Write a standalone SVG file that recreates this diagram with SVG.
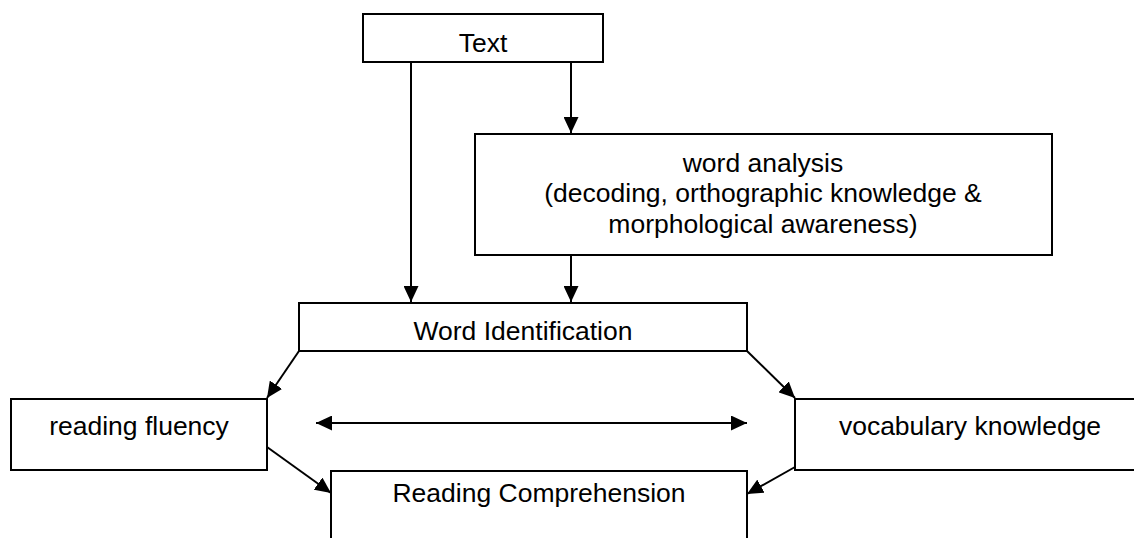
<svg xmlns="http://www.w3.org/2000/svg" width="1134" height="538" viewBox="0 0 1134 538">
<style>
.box{fill:#fff;stroke:#000;stroke-width:2}
.lbl{font-family:"Liberation Sans",Arial,sans-serif;font-size:26.5px;fill:#000;text-anchor:middle}
.con{stroke:#000;stroke-width:2;fill:none;marker-end:url(#ah)}
</style>
<defs>
<marker id="ah" markerUnits="userSpaceOnUse" markerWidth="17" markerHeight="15" viewBox="0 0 17 15" refX="16" refY="7.5" orient="auto-start-reverse">
<path d="M0,0 L16,7.5 L0,15 z" fill="#000"/>
</marker>
</defs>
<rect width="1134" height="538" fill="#fff"/>
<g id="connectors">
<line class="con" x1="411" y1="62" x2="411" y2="302"/>
<line class="con" x1="571" y1="62" x2="571" y2="133"/>
<line class="con" x1="571" y1="255" x2="571" y2="302"/>
<line class="con" x1="299" y1="351" x2="267" y2="398"/>
<line class="con" x1="747" y1="351" x2="795" y2="398"/>
<line class="con" x1="267" y1="447" x2="331" y2="493"/>
<line class="con" x1="795" y1="467" x2="747" y2="494"/>
<line class="con" x1="316" y1="423" x2="747" y2="423" marker-start="url(#ah)"/>
</g>
<g id="text-node">
<rect class="box" x="363" y="14" width="240" height="48"/>
<text class="lbl" x="483" y="52">Text</text>
</g>
<g id="word-analysis">
<rect class="box" x="475" y="134" width="577" height="121"/>
<text class="lbl" x="763" y="172">word analysis</text>
<text class="lbl" x="763" y="202">(decoding, orthographic knowledge &amp;</text>
<text class="lbl" x="763" y="233">morphological awareness)</text>
</g>
<g id="word-identification">
<rect class="box" x="299" y="303" width="448" height="48"/>
<text class="lbl" x="523" y="340">Word Identification</text>
</g>
<g id="reading-fluency">
<rect class="box" x="11" y="399" width="256" height="71"/>
<text class="lbl" x="139" y="435">reading fluency</text>
</g>
<g id="vocabulary-knowledge">
<rect class="box" x="795" y="399" width="350" height="71"/>
<text class="lbl" x="970" y="435">vocabulary knowledge</text>
</g>
<g id="reading-comprehension">
<rect class="box" x="331" y="471" width="416" height="90"/>
<text class="lbl" x="539" y="502">Reading Comprehension</text>
</g>
</svg>
